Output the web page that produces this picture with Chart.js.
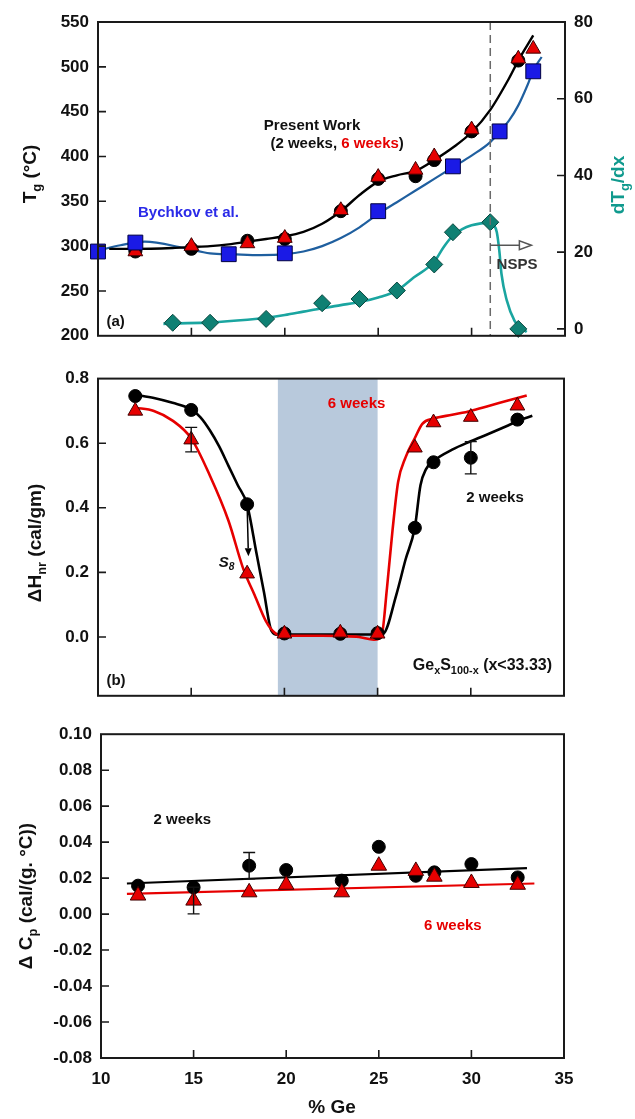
<!DOCTYPE html>
<html>
<head>
<meta charset="utf-8">
<script src="https://cdn.jsdelivr.net/npm/chart.js@4.4.1/dist/chart.umd.min.js"></script>
<style>
  html, body { margin: 0; padding: 0; background: #fff; }
  #wrap { position: relative; width: 635px; height: 1119px; }
  canvas { position: absolute; left: 0; }
</style>
</head>
<body>
<div id="wrap">
  <canvas id="tgChart" width="635" height="355" style="top:0"></canvas>
  <canvas id="dhChart" width="635" height="360" style="top:355px"></canvas>
  <canvas id="cpChart" width="635" height="404" style="top:715px"></canvas>
</div>
<script>
// ---- shared axis ticks ----
const xTickVals = [10, 15, 20, 25, 30, 35];
const tgTicks = [200, 250, 300, 350, 400, 450, 500, 550];
const dtgTicks = [0, 20, 40, 60, 80];
const dhTicks = [0.0, 0.2, 0.4, 0.6, 0.8];
const cpTicks = [-0.08, -0.06, -0.04, -0.02, 0.0, 0.02, 0.04, 0.06, 0.08, 0.10];

// ---- panel (a): Tg and dTg/dx ----
const geTg2w = [12, 15, 18, 20, 23, 25, 27, 28, 30, 32.5];
const tg2w = [294, 297, 306, 308, 339, 375, 378, 396, 428, 507];
const geTg6w = [12, 15, 18, 20, 23, 25, 27, 28, 30, 32.5, 33.3];
const tg6w = [294, 300, 303, 309, 340, 377, 385, 400, 430, 509, 520];
const geBychkov = [10, 12, 17, 20, 25, 29, 31.5, 33.3];
const tgBychkov = [294, 304, 291, 292, 339, 389, 428, 495];
const geDtg = [14, 16, 19, 22, 24, 26, 28, 29, 31, 32.5];
const dtgVals = [1.6, 1.6, 2.6, 6.7, 7.8, 10.0, 16.8, 25.2, 27.8, 0.0];

// fitted curves
const fitTgX = [10.6, 12, 14, 15, 16, 17, 18, 19, 20, 21, 22, 23, 24, 25, 26, 27, 28, 29, 30, 31, 32, 32.5, 33.3];
const fitTgY = [297, 297, 298, 299, 300, 302, 305, 308, 311, 316, 325, 339, 357, 372, 379, 384, 396, 410, 427, 452, 487, 507, 535];
const fitBychX = [10, 11.2, 12.5, 14.6, 16, 17.2, 18.7, 20, 21, 22, 23, 24, 25, 26, 27, 28, 29, 30, 31, 32, 32.5, 33, 33.3, 33.75];
const fitBychY = [295, 301, 305, 298, 292, 291, 290, 291, 294, 300, 309, 321, 336, 349, 362, 375, 388, 401, 416, 440, 457, 480, 496, 511];
const fitDtgX = [13.5, 14, 16, 18, 19, 20, 21, 22, 23, 24, 25, 26, 26.9, 28, 28.5, 29, 29.5, 30, 30.5, 31, 31.17, 31.35, 31.49, 31.6, 31.88, 32.3, 32.6, 32.95];
const fitDtgY = [1.3, 1.4, 1.7, 2.4, 2.9, 3.6, 4.5, 5.4, 6.2, 7.0, 8.2, 10.0, 13.4, 17.5, 21.3, 24.3, 26.0, 27.0, 27.5, 27.7, 27.2, 25.2, 20.1, 14.3, 7.5, 2.1, 0.4, -0.8];
const nspsGe = 31;
const nspsArrow = [31, 33.2, 21.8];   // from x, to x, at dTg/dx

// ---- panel (b): non-reversing enthalpy ----
const geDh = [12, 15, 18, 20, 23, 25, 27, 28, 30, 32.5];
const dh2w = [0.746, 0.703, 0.411, 0.011, 0.010, 0.012, 0.338, 0.541, 0.555, 0.673];
const dh2wErr = [0, 0, 0, 0, 0, 0, 0, 0, 0.05, 0];
const dh6w = [0.700, 0.611, 0.196, 0.010, 0.013, 0.010, 0.586, 0.664, 0.681, 0.716];
const dh6wErr = [0, 0.038, 0, 0, 0, 0, 0, 0, 0, 0];
const fitDh2wX = [12, 13, 14, 15, 15.5, 16, 16.5, 17, 17.5, 18, 18.5, 18.9, 19.3, 19.7, 20, 21, 22, 23, 24, 25, 25.3, 26, 26.5, 27, 27.3, 27.6, 28, 29, 30, 31, 32, 32.5, 33.3];
const fitDh2wY = [0.75, 0.74, 0.725, 0.705, 0.68, 0.64, 0.59, 0.53, 0.47, 0.41, 0.26, 0.14, 0.02, 0.006, 0.008, 0.008, 0.008, 0.008, 0.008, 0.008, 0.01, 0.13, 0.24, 0.34, 0.47, 0.52, 0.545, 0.58, 0.606, 0.63, 0.655, 0.668, 0.685];
const fitDh6wX = [12, 13, 14, 15, 16, 17, 17.8, 18.4, 19, 19.5, 20, 21, 22, 23, 24, 24.8, 25.2, 25.5, 25.8, 26.1, 26.5, 27, 27.4, 28, 29, 30, 31, 32, 33];
const fitDh6wY = [0.71, 0.70, 0.67, 0.615, 0.50, 0.36, 0.21, 0.13, 0.05, 0.012, 0.004, 0.004, 0.004, 0.003, 0.0, -0.008, 0.0, 0.15, 0.33, 0.48, 0.556, 0.616, 0.66, 0.676, 0.688, 0.70, 0.716, 0.732, 0.748];
const ipBand = [19.65, 25.0];          // intermediate phase window
const s8Arrow = [18, 0.41, 18.07, 0.25];

// ---- panel (c): heat capacity step ----
const geCp = [12, 15, 18, 20, 23, 25, 27, 28, 30, 32.5];
const cp2w = [0.0158, 0.0149, 0.0269, 0.0245, 0.0186, 0.0374, 0.0213, 0.0232, 0.0278, 0.0204];
const cp2wErr = [0, 0, 0.0073, 0, 0, 0, 0, 0, 0, 0];
const cp6w = [0.0103, 0.0075, 0.0121, 0.0163, 0.0121, 0.0269, 0.0240, 0.0208, 0.0173, 0.0163];
const cp6wErr = [0, 0.0074, 0, 0, 0, 0, 0, 0, 0, 0];
const fitCp2wX = [11.4, 33.0];
const fitCp2wY = [0.0170, 0.0255];
const fitCp6wX = [11.4, 33.4];
const fitCp6wY = [0.0112, 0.0170];

const FONT = '"Liberation Sans", Arial, Helvetica, sans-serif';
const RED = '#e60000';
const BLUE_FILL = '#1a1ae6';
const BLUE_LINE = '#1f5f9f';
const TEAL_FILL = '#0f8073';
const TEAL_LINE = '#1aa5a0';
const TEAL_TEXT = '#109a8e';

const toXY = (xs, ys) => xs.map((x, i) => ({ x, y: ys[i] }));

function pts(xs, ys, style, fill, edge, radius, yAxisID, order) {
  return {
    data: toXY(xs, ys), showLine: false, pointStyle: style,
    pointRadius: radius, pointBackgroundColor: fill, pointBorderColor: edge,
    pointBorderWidth: 1, yAxisID, order, clip: false
  };
}

function curve(xs, ys, color, width, yAxisID, smooth = true) {
  return {
    data: toXY(xs, ys), showLine: true, borderColor: color, borderWidth: width,
    pointRadius: 0, fill: false, yAxisID, order: 10,
    cubicInterpolationMode: smooth ? 'monotone' : 'default'
  };
}

function yAxis(pos, min, max, tickVals, fmt, width) {
  return {
    type: 'linear', position: pos, min, max,
    grid: { display: false, drawTicks: false },
    border: { display: false },
    afterBuildTicks: s => { s.ticks = tickVals.map(v => ({ value: v })); },
    afterFit: s => { s.width = width; },
    ticks: {
      autoSkip: false, padding: 9, color: '#111', callback: fmt,
      font: { family: FONT, size: 17, weight: 'bold' }
    }
  };
}

function hiddenX() {
  return { type: 'linear', min: 10, max: 35, display: false };
}

// rich text: parts [{t, sub, sup, italic, color}]
function drawRich(ctx, parts, x, y, size, o = {}) {
  const fontFor = p => `${p.italic ? 'italic ' : ''}bold ${p.sub || p.sup ? size * 0.68 : size}px ${FONT}`;
  ctx.save();
  ctx.translate(x, y);
  ctx.rotate(o.rotate || 0);
  ctx.textBaseline = 'middle';
  ctx.textAlign = 'left';
  let total = 0;
  const widths = parts.map(p => { ctx.font = fontFor(p); const w = ctx.measureText(p.t).width; total += w; return w; });
  let cx = o.align === 'left' ? 0 : o.align === 'right' ? -total : -total / 2;
  parts.forEach((p, i) => {
    ctx.font = fontFor(p);
    ctx.fillStyle = p.color || o.color || '#111';
    const dy = p.sub ? size * 0.32 : p.sup ? -size * 0.35 : 0;
    ctx.fillText(p.t, cx, dy);
    cx += widths[i];
  });
  ctx.restore();
}

function arrow(ctx, x1, y1, x2, y2, color, hollow, L = 11, W = 4.5) {
  const ang = Math.atan2(y2 - y1, x2 - x1);
  const bx = x2 - L * Math.cos(ang), by = y2 - L * Math.sin(ang);
  ctx.strokeStyle = color;
  ctx.fillStyle = color;
  ctx.lineWidth = 1.5;
  ctx.beginPath();
  ctx.moveTo(x1, y1);
  ctx.lineTo(bx, by);
  ctx.stroke();
  ctx.beginPath();
  ctx.moveTo(x2, y2);
  ctx.lineTo(bx + W * Math.sin(ang), by - W * Math.cos(ang));
  ctx.lineTo(bx - W * Math.sin(ang), by + W * Math.cos(ang));
  ctx.closePath();
  hollow ? ctx.stroke() : ctx.fill();
}

// frame, inward ticks, error bars, labels
function panelDecor(cfg) {
  return {
    id: 'decor',
    beforeDatasetsDraw(chart) {
      if (!cfg.band) return;
      const { ctx, chartArea: a, scales } = chart;
      const x1 = scales.x.getPixelForValue(cfg.band[0]);
      const x2 = scales.x.getPixelForValue(cfg.band[1]);
      ctx.save();
      ctx.fillStyle = '#b8c9dc';
      ctx.fillRect(x1, a.top, x2 - x1, a.bottom - a.top);
      ctx.restore();
    },
    afterDatasetsDraw(chart) {
      const { ctx, scales } = chart;
      ctx.save();
      ctx.strokeStyle = '#111';
      ctx.lineWidth = 1.4;
      (cfg.errors || []).forEach(e => {
        e.xs.forEach((xv, i) => {
          if (!e.errs[i]) return;
          const px = scales.x.getPixelForValue(xv);
          const lo = scales.y.getPixelForValue(e.ys[i] - e.errs[i]);
          const hi = scales.y.getPixelForValue(e.ys[i] + e.errs[i]);
          ctx.beginPath();
          ctx.moveTo(px, lo); ctx.lineTo(px, hi);
          ctx.moveTo(px - 6, lo); ctx.lineTo(px + 6, lo);
          ctx.moveTo(px - 6, hi); ctx.lineTo(px + 6, hi);
          ctx.stroke();
        });
      });
      ctx.restore();
      if (cfg.extra) cfg.extra(chart);
    },
    afterDraw(chart) {
      const { ctx, chartArea: a, scales } = chart;
      ctx.save();
      ctx.strokeStyle = '#1a1a1a';
      ctx.lineWidth = 1.6;
      ctx.beginPath();
      xTickVals.forEach(v => {
        const px = scales.x.getPixelForValue(v);
        if (px > a.left + 2 && px < a.right - 2) { ctx.moveTo(px, a.bottom); ctx.lineTo(px, a.bottom - 8); }
      });
      cfg.yTicks.forEach(v => {
        const py = scales.y.getPixelForValue(v);
        if (py > a.top + 2 && py < a.bottom - 2) { ctx.moveTo(a.left, py); ctx.lineTo(a.left + 8, py); }
      });
      (cfg.y2Ticks || []).forEach(v => {
        const py = scales.y2.getPixelForValue(v);
        if (py > a.top + 2 && py < a.bottom - 2) { ctx.moveTo(a.right, py); ctx.lineTo(a.right - 8, py); }
      });
      ctx.stroke();
      ctx.lineWidth = 2;
      ctx.strokeRect(a.left, a.top, a.right - a.left, a.bottom - a.top);
      (cfg.notes || []).forEach(n => {
        const px = scales.x.getPixelForValue(n.x);
        const py = scales[n.axis || 'y'].getPixelForValue(n.y);
        drawRich(ctx, n.parts, px, py, n.size || 15, { align: n.align, color: n.color });
      });
      (cfg.titles || []).forEach(t => {
        drawRich(ctx, t.parts, t.x, t.y, 19, { rotate: t.rotate, color: t.color });
      });
      ctx.restore();
    }
  };
}

const baseOptions = (padding, scales) => ({
  responsive: false,
  animation: false,
  layout: { padding },
  plugins: { legend: { display: false }, tooltip: { enabled: false } },
  scales
});

// ---------- (a) ----------
new Chart(document.getElementById('tgChart'), {
  type: 'scatter',
  data: {
    datasets: [
      pts(geBychkov, tgBychkov, 'rect', BLUE_FILL, '#000040', 10.5, 'y', 0),
      pts(geDtg, dtgVals, 'rectRot', TEAL_FILL, '#0a4840', 8.5, 'y2', 0),
      pts(geTg6w, tg6w, 'triangle', RED, '#400000', 8.5, 'y', 1),
      pts(geTg2w, tg2w, 'circle', '#000', '#000', 6.5, 'y', 2),
      curve(fitTgX, fitTgY, '#000', 2.4, 'y'),
      curve(fitBychX, fitBychY, BLUE_LINE, 2.2, 'y'),
      curve(fitDtgX, fitDtgY, TEAL_LINE, 2.6, 'y2')
    ]
  },
  options: baseOptions({ top: 22, bottom: 8, left: 0, right: 0 }, {
    x: hiddenX(),
    y: yAxis('left', 200, 550, tgTicks, v => String(v), 98),
    y2: yAxis('right', -1.8, 80, dtgTicks, v => String(v), 70)
  }),
  plugins: [panelDecor({
    yTicks: tgTicks,
    y2Ticks: dtgTicks,
    extra(chart) {
      const { ctx, chartArea: a, scales } = chart;
      const px = scales.x.getPixelForValue(nspsGe);
      ctx.save();
      ctx.strokeStyle = '#6a6a6a';
      ctx.lineWidth = 1.5;
      ctx.setLineDash([8, 5]);
      ctx.beginPath();
      ctx.moveTo(px, a.top); ctx.lineTo(px, a.bottom);
      ctx.stroke();
      ctx.setLineDash([]);
      const ay = scales.y2.getPixelForValue(nspsArrow[2]);
      arrow(ctx, scales.x.getPixelForValue(nspsArrow[0]), ay, scales.x.getPixelForValue(nspsArrow[1]), ay, '#555', true, 12, 4.5);
      ctx.restore();
    },
    notes: [
      { x: 21.46, y: 434, parts: [{ t: 'Present Work' }] },
      { x: 22.8, y: 414, parts: [{ t: '(2 weeks, ' }, { t: '6 weeks', color: RED }, { t: ')' }] },
      { x: 12.14, y: 337, align: 'left', color: '#2a2ae8', parts: [{ t: 'Bychkov et al.' }] },
      { x: 10.45, y: 215, align: 'left', parts: [{ t: '(a)' }] },
      { x: 32.43, y: 16.8, axis: 'y2', color: '#333', parts: [{ t: 'NSPS' }] }
    ],
    titles: [
      { x: 31, y: 174, rotate: -Math.PI / 2, parts: [{ t: 'T' }, { t: 'g', sub: true }, { t: ' (°C)' }] },
      { x: 619, y: 185, rotate: -Math.PI / 2, color: TEAL_TEXT, parts: [{ t: 'dT' }, { t: 'g', sub: true }, { t: '/dx' }] }
    ]
  })]
});

// ---------- (b) ----------
new Chart(document.getElementById('dhChart'), {
  type: 'scatter',
  data: {
    datasets: [
      pts(geDh, dh6w, 'triangle', RED, '#400000', 8.5, 'y', 1),
      pts(geDh, dh2w, 'circle', '#000', '#000', 6.5, 'y', 2),
      curve(fitDh6wX, fitDh6wY, RED, 2.6, 'y'),
      curve(fitDh2wX, fitDh2wY, '#000', 2.6, 'y')
    ]
  },
  options: baseOptions({ top: 23.6, bottom: 9, left: 0, right: 71 }, {
    x: hiddenX(),
    y: yAxis('left', -0.182, 0.8, dhTicks, v => v.toFixed(1), 98)
  }),
  plugins: [panelDecor({
    band: ipBand,
    yTicks: dhTicks,
    errors: [
      { xs: geDh, ys: dh2w, errs: dh2wErr },
      { xs: geDh, ys: dh6w, errs: dh6wErr }
    ],
    extra(chart) {
      const { ctx, scales } = chart;
      ctx.save();
      arrow(ctx, scales.x.getPixelForValue(s8Arrow[0]), scales.y.getPixelForValue(s8Arrow[1]),
        scales.x.getPixelForValue(s8Arrow[2]), scales.y.getPixelForValue(s8Arrow[3]), '#000', false, 8, 3.5);
      ctx.restore();
    },
    notes: [
      { x: 23.87, y: 0.721, color: RED, parts: [{ t: '6 weeks' }] },
      { x: 31.3, y: 0.431, parts: [{ t: '2 weeks' }] },
      { x: 34.36, y: -0.089, align: 'right', size: 16, parts: [{ t: 'Ge' }, { t: 'x', sub: true }, { t: 'S' }, { t: '100-x', sub: true }, { t: ' (x<33.33)' }] },
      { x: 10.45, y: -0.136, align: 'left', parts: [{ t: '(b)' }] },
      { x: 16.9, y: 0.231, parts: [{ t: 'S', italic: true }, { t: '8', sub: true, italic: true }] }
    ],
    titles: [
      { x: 36, y: 188, rotate: -Math.PI / 2, parts: [{ t: 'ΔH' }, { t: 'nr', sub: true }, { t: ' (cal/gm)' }] }
    ]
  })]
});

// ---------- (c) ----------
new Chart(document.getElementById('cpChart'), {
  type: 'scatter',
  data: {
    datasets: [
      pts(geCp, cp6w, 'triangle', RED, '#400000', 9, 'y', 1),
      pts(geCp, cp2w, 'circle', '#000', '#000', 6.5, 'y', 2),
      curve(fitCp6wX, fitCp6wY, RED, 2.2, 'y', false),
      curve(fitCp2wX, fitCp2wY, '#000', 2.2, 'y', false)
    ]
  },
  options: baseOptions({ top: 18, bottom: 0, left: 0, right: 71 }, {
    x: {
      type: 'linear', min: 10, max: 35, position: 'bottom',
      grid: { display: false, drawTicks: false },
      border: { display: false },
      afterBuildTicks: s => { s.ticks = xTickVals.map(v => ({ value: v })); },
      afterFit: s => { s.height = 61; },
      ticks: {
        autoSkip: false, maxRotation: 0, padding: 11, color: '#111',
        font: { family: FONT, size: 17, weight: 'bold' },
        callback: v => String(v)
      }
    },
    y: yAxis('left', -0.08, 0.10, cpTicks, v => v.toFixed(2), 101)
  }),
  plugins: [panelDecor({
    yTicks: cpTicks,
    errors: [
      { xs: geCp, ys: cp2w, errs: cp2wErr },
      { xs: geCp, ys: cp6w, errs: cp6wErr }
    ],
    notes: [
      { x: 14.39, y: 0.0522, parts: [{ t: '2 weeks' }] },
      { x: 29.0, y: -0.0064, color: RED, parts: [{ t: '6 weeks' }] }
    ],
    titles: [
      { x: 27, y: 181, rotate: -Math.PI / 2, parts: [{ t: 'Δ C' }, { t: 'p', sub: true }, { t: ' (cal/(g. °C))' }] },
      { x: 332, y: 393, parts: [{ t: '% Ge' }] }
    ]
  })]
});
</script>
</body>
</html>
